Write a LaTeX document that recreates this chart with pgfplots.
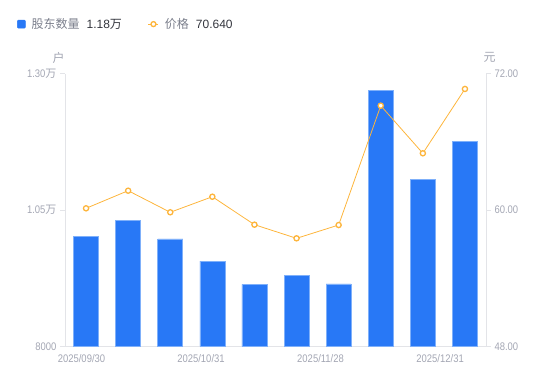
\documentclass[border=0pt]{standalone}
\usepackage{pgfplots}
\pgfplotsset{compat=1.18}
\usepackage{fontspec}
\setmainfont{Liberation Sans}
\newfontfamily\cjk{Noto Sans CJK SC}
\newfontfamily\tickfont[FakeStretch=0.86]{Liberation Sans}
\definecolor{barblue}{HTML}{2878F6}
\definecolor{baredge}{HTML}{7FB0FA}
\definecolor{lineorange}{HTML}{FDB53C}
\definecolor{axisgray}{HTML}{E3E4E8}
\definecolor{tickgray}{HTML}{A3A6B3}
\definecolor{leggray}{HTML}{7B7F8C}
\definecolor{valdark}{HTML}{33353D}
\begin{document}
\begin{tikzpicture}[x=1pt,y=1pt]
\useasboundingbox (0,0) rectangle (550,381);
\begin{axis}[
  at={(65pt,34.7pt)}, anchor=south west, scale only axis,
  width=421pt, height=272.8pt,
  xmin=-0.5, xmax=9.5, ymin=8000, ymax=13000,
  axis x line*=bottom, axis y line*=left,
  axis line style={-, axisgray, line width=0.8pt},
  xtick={-0.108,2.73,5.57,8.41},
  xticklabels={2025/09/30,2025/10/31,2025/11/28,2025/12/31},
  x tick style={draw=none},
  ytick={8000,10500,13000},
  yticklabels={8000,1.05{\cjk 万},1.30{\cjk 万}},
  y tick style={axisgray, line width=0.8pt},
  major tick length=5pt, tick align=outside,
  ticklabel style={font=\tickfont\fontsize{11}{11}\selectfont, text=tickgray},
  scaled y ticks=false,
  ybar, bar width=25pt,
]
\addplot[fill=barblue, draw=baredge, line width=0.6pt] coordinates {
  (0,10009) (1,10302) (2,9967) (3,9563) (4,9136)
  (5,9294) (6,9142) (7,12685) (8,11061) (9,11757)};
\end{axis}
\begin{axis}[
  at={(65pt,34.7pt)}, anchor=south west, scale only axis,
  width=421pt, height=272.8pt,
  xmin=-0.5, xmax=9.5, ymin=48, ymax=72,
  axis x line=none, axis y line*=right,
  axis line style={-, axisgray, line width=0.8pt},
  ytick={48,60,72},
  yticklabels={48.00,60.00,72.00},
  y tick style={axisgray, line width=0.8pt},
  major tick length=5pt, tick align=outside,
  ticklabel style={font=\tickfont\fontsize{11}{11}\selectfont, text=tickgray},
  legend style={at={(-0.114,1.181)}, anchor=west, draw=none, fill=none,
    font=\fontsize{12}{12}\selectfont, legend columns=2, inner sep=0pt,
    /tikz/every odd column/.append style={column sep=4pt},
    /tikz/every even column/.append style={column sep=24pt}},
  legend cell align=left,
]
\addlegendimage{legend image code/.code={\fill[barblue, rounded corners=1pt] (0pt,-4pt) rectangle (8pt,4pt);}}
\addlegendentry{\textcolor{leggray}{\cjk 股东数量}\hspace{7pt}\textcolor{valdark}{1.18{\cjk 万}}}
\addplot[lineorange, line width=0.8pt, mark=*, mark size=2.6pt,
  mark options={fill=white, draw=lineorange, line width=1.3pt},
  legend image code/.code={\draw[lineorange,line width=1pt] (0pt,0pt)--(10pt,0pt); \draw[lineorange, fill=white, line width=1.3pt] (5pt,0pt) circle (2.5pt);}]
  coordinates {
  (0,60.14) (1,61.69) (2,59.79) (3,61.16) (4,58.70)
  (5,57.50) (6,58.67) (7,69.17) (8,64.98) (9,70.64)};
\addlegendentry{\textcolor{leggray}{\cjk 价格}\hspace{7pt}\textcolor{valdark}{70.640}}
\end{axis}
\node[text=tickgray, font=\cjk\fontsize{12}{12}\selectfont] at (58.5,323.5) {户};
\node[text=tickgray, font=\cjk\fontsize{12}{12}\selectfont] at (489.5,324) {元};
\end{tikzpicture}
\end{document}
